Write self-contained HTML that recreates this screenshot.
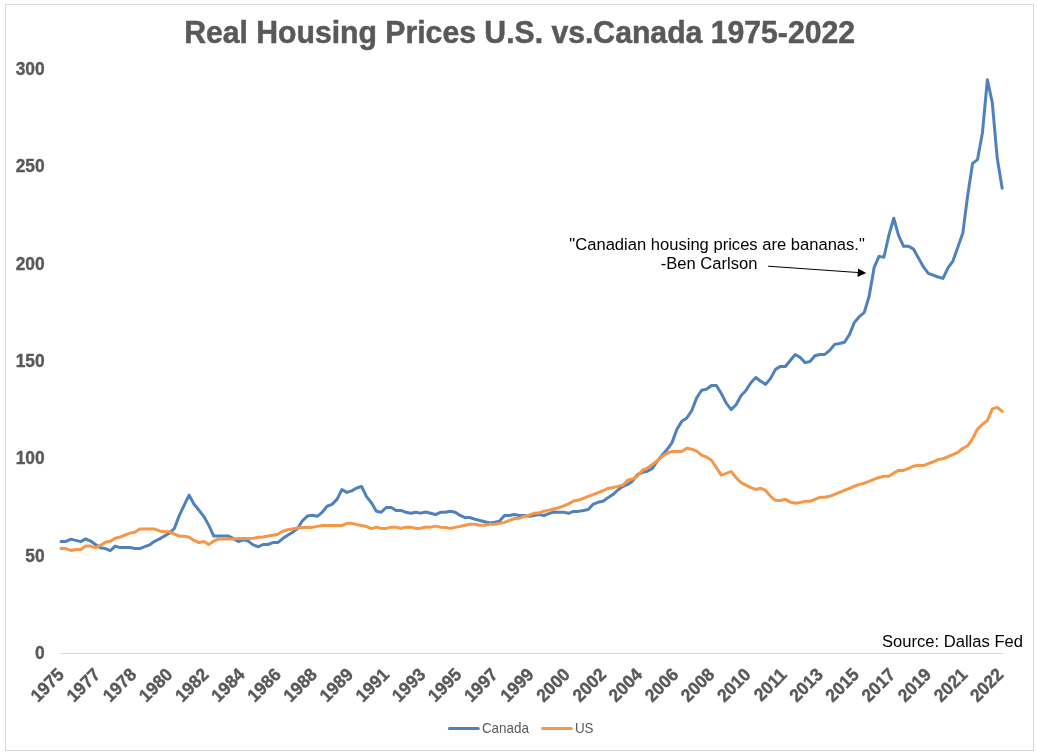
<!DOCTYPE html>
<html lang="en">
<head>
<meta charset="utf-8">
<title>Real Housing Prices U.S. vs.Canada 1975-2022</title>
<style>
html,body{margin:0;padding:0;background:#fff;}
body{width:1037px;height:755px;overflow:hidden;}
svg{display:block;}
text{font-family:"Liberation Sans",Arial,Helvetica,sans-serif;}
.b{font-weight:bold;fill:#595959;}
</style>
</head>
<body>
<svg width="1037" height="755" viewBox="0 0 1037 755">
<rect x="0" y="0" width="1037" height="755" fill="#ffffff"/>
<rect x="5.5" y="4.5" width="1028" height="746" fill="#ffffff" stroke="#d9d9d9" stroke-width="1"/>
<text class="b" transform="translate(519.6,42.8) scale(0.98,1)" font-size="30.8" text-anchor="middle" stroke="#595959" stroke-width="0.5">Real Housing Prices U.S. vs.Canada 1975-2022</text>
<g class="b" font-size="18" text-anchor="end" stroke="#595959" stroke-width="0.35">
<text transform="translate(44.6,75.0) scale(0.965,1)">300</text>
<text transform="translate(44.6,172.3) scale(0.965,1)">250</text>
<text transform="translate(44.6,269.7) scale(0.965,1)">200</text>
<text transform="translate(44.6,367.0) scale(0.965,1)">150</text>
<text transform="translate(44.6,464.3) scale(0.965,1)">100</text>
<text transform="translate(44.6,561.7) scale(0.965,1)">50</text>
<text transform="translate(44.6,659.0) scale(0.965,1)">0</text>
</g>
<line x1="60.5" y1="653.5" x2="1003.2" y2="653.5" stroke="#d9d9d9" stroke-width="1"/>
<g class="b" font-size="18" text-anchor="end" stroke="#595959" stroke-width="0.4">
<text transform="translate(65.20,675.7) rotate(-45) scale(0.965,1)">1975</text>
<text transform="translate(101.34,675.7) rotate(-45) scale(0.965,1)">1977</text>
<text transform="translate(137.47,675.7) rotate(-45) scale(0.965,1)">1978</text>
<text transform="translate(173.61,675.7) rotate(-45) scale(0.965,1)">1980</text>
<text transform="translate(209.74,675.7) rotate(-45) scale(0.965,1)">1982</text>
<text transform="translate(245.88,675.7) rotate(-45) scale(0.965,1)">1984</text>
<text transform="translate(282.01,675.7) rotate(-45) scale(0.965,1)">1986</text>
<text transform="translate(318.14,675.7) rotate(-45) scale(0.965,1)">1988</text>
<text transform="translate(354.28,675.7) rotate(-45) scale(0.965,1)">1989</text>
<text transform="translate(390.41,675.7) rotate(-45) scale(0.965,1)">1991</text>
<text transform="translate(426.55,675.7) rotate(-45) scale(0.965,1)">1993</text>
<text transform="translate(462.68,675.7) rotate(-45) scale(0.965,1)">1995</text>
<text transform="translate(498.82,675.7) rotate(-45) scale(0.965,1)">1997</text>
<text transform="translate(534.96,675.7) rotate(-45) scale(0.965,1)">1999</text>
<text transform="translate(571.09,675.7) rotate(-45) scale(0.965,1)">2000</text>
<text transform="translate(607.23,675.7) rotate(-45) scale(0.965,1)">2002</text>
<text transform="translate(643.36,675.7) rotate(-45) scale(0.965,1)">2004</text>
<text transform="translate(679.50,675.7) rotate(-45) scale(0.965,1)">2006</text>
<text transform="translate(715.63,675.7) rotate(-45) scale(0.965,1)">2008</text>
<text transform="translate(751.76,675.7) rotate(-45) scale(0.965,1)">2010</text>
<text transform="translate(787.90,675.7) rotate(-45) scale(0.965,1)">2011</text>
<text transform="translate(824.03,675.7) rotate(-45) scale(0.965,1)">2013</text>
<text transform="translate(860.17,675.7) rotate(-45) scale(0.965,1)">2015</text>
<text transform="translate(896.30,675.7) rotate(-45) scale(0.965,1)">2017</text>
<text transform="translate(932.44,675.7) rotate(-45) scale(0.965,1)">2019</text>
<text transform="translate(968.58,675.7) rotate(-45) scale(0.965,1)">2021</text>
<text transform="translate(1004.71,675.7) rotate(-45) scale(0.965,1)">2022</text>
</g>
<polyline fill="none" stroke="#4f81bd" stroke-width="3.0" stroke-linejoin="round" stroke-linecap="round" points="61.00,541.41 65.93,541.41 70.86,539.15 75.78,540.41 80.71,541.67 85.64,538.90 90.57,541.04 95.49,544.43 100.42,547.71 105.35,548.59 110.28,550.73 115.20,546.07 120.13,547.58 125.06,547.58 129.99,547.58 134.91,548.59 139.84,548.59 144.77,546.70 149.70,544.81 154.62,541.29 159.55,538.90 164.48,536.00 169.41,533.11 174.33,528.48 179.26,515.59 184.19,505.20 189.12,495.17 194.05,504.23 198.97,510.27 203.90,516.56 208.83,525.37 213.76,536.07 218.68,536.07 223.61,536.07 228.54,536.07 233.47,538.59 238.39,541.48 243.32,539.85 248.25,541.10 253.18,544.88 258.10,546.77 263.03,544.50 267.96,544.50 272.89,542.61 277.81,542.61 282.74,538.59 287.67,535.19 292.60,532.29 297.52,528.46 302.45,520.72 307.38,516.07 312.31,515.19 317.24,516.32 322.16,512.29 327.09,506.25 332.02,504.37 336.95,499.33 341.87,489.64 346.80,492.41 351.73,490.90 356.66,488.01 361.58,486.50 366.51,496.56 371.44,502.86 376.37,511.29 381.29,512.29 386.22,507.51 391.15,507.51 396.08,510.41 401.00,510.41 405.93,512.29 410.86,513.18 415.79,512.29 420.71,513.11 425.64,511.98 430.57,513.30 435.50,514.56 440.43,512.29 445.35,512.29 450.28,511.29 455.21,512.29 460.14,515.44 465.06,517.58 469.99,517.58 474.92,519.22 479.85,520.47 484.77,521.73 489.70,522.99 494.63,522.11 499.56,521.10 504.48,515.44 509.41,515.44 514.34,514.56 519.27,515.44 524.19,515.44 529.12,516.32 534.05,515.44 538.98,514.55 543.90,515.49 548.83,513.65 553.76,512.02 558.69,512.14 563.62,512.14 568.54,513.28 573.47,511.39 578.40,511.39 583.33,510.51 588.25,509.50 593.18,504.22 598.11,502.33 603.04,501.32 607.96,497.67 612.89,494.53 617.82,490.00 622.75,486.60 627.67,484.46 632.60,480.93 637.53,474.64 642.46,472.38 647.38,471.24 652.31,468.35 657.24,461.15 662.17,455.17 667.09,449.54 672.02,442.62 676.95,429.32 681.88,421.14 686.81,417.99 691.73,410.69 696.66,397.86 701.59,390.30 706.52,389.30 711.44,385.52 716.37,385.52 721.30,393.45 726.23,403.14 731.15,409.56 736.08,404.78 741.01,395.72 745.94,390.56 750.86,382.75 755.79,377.47 760.72,381.24 765.65,384.39 770.57,378.35 775.50,369.35 780.43,366.39 785.36,366.45 790.28,360.47 795.21,354.56 800.14,357.33 805.07,362.61 810.00,361.48 814.92,355.69 819.85,354.43 824.78,354.43 829.71,350.41 834.63,344.37 839.56,343.48 844.49,342.23 849.42,334.68 854.34,322.47 859.27,316.68 864.20,312.65 869.13,296.28 874.05,267.96 878.98,256.38 883.91,257.26 888.84,235.24 893.76,218.25 898.69,235.87 903.62,246.31 908.55,246.31 913.47,249.08 918.40,257.89 923.33,266.70 928.26,273.37 933.19,275.13 938.11,277.02 943.04,278.40 947.97,267.96 952.90,261.04 957.82,247.19 962.75,233.35 967.68,195.44 972.61,163.35 977.53,159.57 982.46,132.44 987.39,79.76 992.32,102.79 997.24,158.32 1002.17,188.14"/>
<polyline fill="none" stroke="#f79646" stroke-width="3.0" stroke-linejoin="round" stroke-linecap="round" points="61.00,548.59 65.93,548.59 70.86,550.47 75.78,549.47 80.71,549.47 85.64,546.07 90.57,546.07 95.49,547.58 100.42,545.44 105.35,542.29 110.28,541.29 115.20,538.27 120.13,537.01 125.06,535.00 129.99,533.11 134.91,532.23 139.84,529.08 144.77,529.08 149.70,529.08 154.62,529.08 159.55,530.97 164.48,531.85 169.41,531.85 174.33,534.15 179.26,536.22 184.19,536.22 189.12,537.33 194.05,540.47 198.97,542.61 203.90,541.48 208.83,544.50 213.76,541.10 218.68,538.96 223.61,538.96 228.54,538.96 233.47,538.96 238.39,538.59 243.32,538.59 248.25,538.59 253.18,538.33 258.10,537.33 263.03,536.95 267.96,536.07 272.89,535.19 277.81,534.18 282.74,531.29 287.67,529.78 292.60,528.90 297.52,528.08 302.45,527.45 307.38,527.40 312.31,527.40 317.24,526.39 322.16,525.51 327.09,525.51 332.02,525.51 336.95,525.51 341.87,525.51 346.80,523.37 351.73,523.37 356.66,524.50 361.58,525.51 366.51,526.52 371.44,528.65 376.37,527.14 381.29,528.40 386.22,528.40 391.15,527.14 396.08,527.14 401.00,528.40 405.93,527.14 410.86,527.14 415.79,528.40 420.71,528.21 425.64,526.96 430.57,527.14 435.50,526.14 440.43,527.14 445.35,527.40 450.28,528.40 455.21,527.40 460.14,526.39 465.06,525.26 469.99,524.25 474.92,524.25 479.85,525.26 484.77,525.26 489.70,524.25 494.63,524.25 499.56,523.37 504.48,522.36 509.41,520.47 514.34,518.59 519.27,518.33 524.19,516.45 529.12,515.19 534.05,513.30 538.98,513.10 543.90,511.21 548.83,510.13 553.76,508.87 558.69,507.74 563.62,505.85 568.54,503.84 573.47,501.07 578.40,500.06 583.33,498.30 588.25,496.41 593.18,494.53 598.11,492.64 603.04,490.75 607.96,488.48 612.89,487.48 617.82,486.35 622.75,485.09 627.67,480.30 632.60,479.05 637.53,475.90 642.46,470.24 647.38,468.10 652.31,464.57 657.24,460.71 662.17,456.55 667.09,453.32 672.02,451.43 676.95,451.43 681.88,451.43 686.81,448.28 691.73,449.16 696.66,451.18 701.59,455.20 706.52,457.09 711.44,460.24 716.37,467.54 721.30,475.09 726.23,473.45 731.15,471.56 736.08,477.60 741.01,482.51 745.94,485.15 750.86,487.55 755.79,489.43 760.72,488.30 765.65,490.44 770.57,496.36 775.50,500.37 780.43,500.49 785.36,499.23 790.28,502.11 795.21,503.24 800.14,502.36 805.07,501.36 810.00,501.36 814.92,499.47 819.85,497.33 824.78,497.33 829.71,496.32 834.63,494.43 839.56,492.29 844.49,490.41 849.42,488.27 854.34,486.25 859.27,484.37 864.20,483.23 869.13,481.35 874.05,479.33 878.98,477.44 883.91,476.31 888.84,476.31 893.76,473.17 898.69,470.30 903.62,470.42 908.55,468.44 913.47,466.17 918.40,465.16 923.33,465.54 928.26,463.65 933.19,461.77 938.11,459.63 943.04,458.62 947.97,456.73 952.90,454.59 957.82,452.33 962.75,448.55 967.68,445.78 972.61,438.48 977.53,429.05 982.46,424.26 987.39,420.49 992.32,408.91 997.24,407.40 1002.17,411.43"/>
<g font-size="17.3" fill="#000000" text-anchor="middle">
<text transform="translate(717.1,250.2) scale(0.958,1)">"Canadian housing prices are bananas."</text>
<text transform="translate(709.0,269.3) scale(0.958,1)">-Ben Carlson</text>
<text transform="translate(952.5,646.8) scale(0.958,1)">Source: Dallas Fed</text>
</g>
<line x1="768.1" y1="266.2" x2="859" y2="272.6" stroke="#000000" stroke-width="1"/>
<polygon points="866.2,273.1 857.5,277.0 858.1,268.6" fill="#000000"/>
<line x1="449.4" y1="728.5" x2="478.3" y2="728.5" stroke="#4f81bd" stroke-width="3" stroke-linecap="round"/>
<line x1="542.6" y1="728.5" x2="571.2" y2="728.5" stroke="#f79646" stroke-width="3" stroke-linecap="round"/>
<g font-size="14.6" fill="#595959">
<text transform="translate(481.9,733.0) scale(0.92,1)">Canada</text>
<text transform="translate(574.9,733.0) scale(0.92,1)">US</text>
</g>
</svg>
</body>
</html>
